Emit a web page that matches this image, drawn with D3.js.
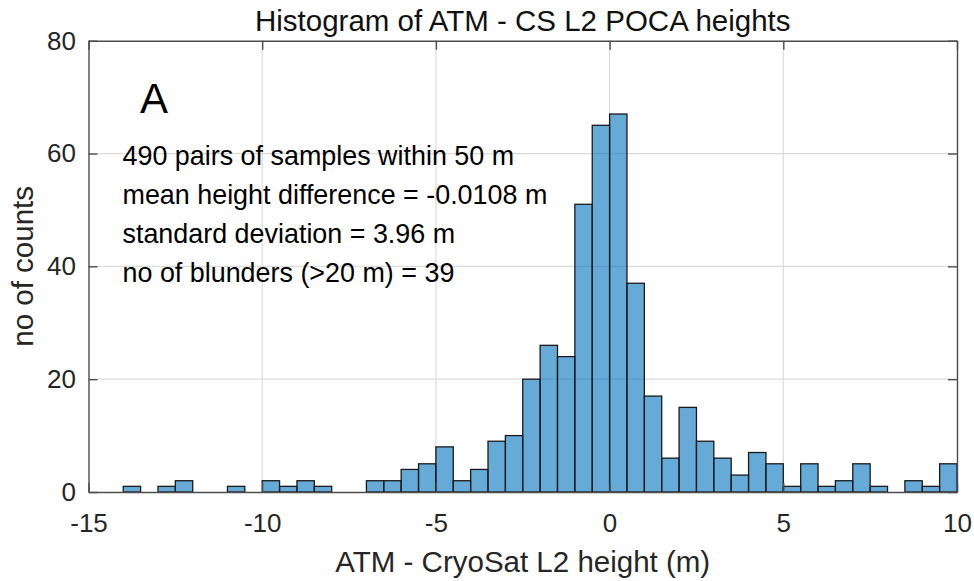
<!DOCTYPE html>
<html>
<head>
<meta charset="utf-8">
<script src="https://cdn.jsdelivr.net/npm/d3@7"></script>
<style>
  body { margin: 0; background: #fff; }
  svg { display: block; font-family: "Liberation Sans", Arial, sans-serif; }
</style>
</head>
<body>
<svg id="chart"></svg>
<script>
// bin left edges (bin width 0.5 m) and counts
var binLeft = [-15, -14.5, -14, -13.5, -13, -12.5, -12, -11.5, -11, -10.5,
               -10, -9.5, -9, -8.5, -8, -7.5, -7, -6.5, -6, -5.5,
               -5, -4.5, -4, -3.5, -3, -2.5, -2, -1.5, -1, -0.5,
               0, 0.5, 1, 1.5, 2, 2.5, 3, 3.5, 4, 4.5,
               5, 5.5, 6, 6.5, 7, 7.5, 8, 8.5, 9, 9.5];
var binWidth = 0.5;
var counts = [0, 0, 1, 0, 1, 2, 0, 0, 1, 0,
              2, 1, 2, 1, 0, 0, 2, 2, 4, 5,
              8, 2, 4, 9, 10, 20, 26, 24, 51, 65,
              67, 37, 17, 6, 15, 9, 6, 3, 7, 5,
              1, 5, 1, 2, 5, 1, 0, 2, 1, 5];

var xTicks = [-15, -10, -5, 0, 5, 10];
var yTicks = [0, 20, 40, 60, 80];

var titleText = "Histogram of ATM - CS L2 POCA heights";
var xLabel = "ATM - CryoSat L2 height (m)";
var yLabel = "no of counts";
var panelLetter = "A";
var statLines = [
  "490 pairs of samples within 50 m",
  "mean height difference = -0.0108 m",
  "standard deviation = 3.96 m",
  "no of blunders (>20 m) = 39"
];

// set the dimensions and margins of the graph
var W = 974, H = 581;
var margin = {top: 40.7, right: 17, bottom: 89, left: 88.5},
    width = W - margin.left - margin.right,
    height = H - margin.top - margin.bottom;

var svg = d3.select("#chart")
    .attr("width", W)
    .attr("height", H);

var g = svg.append("g")
    .attr("transform", "translate(" + margin.left + "," + margin.top + ")");

// set the ranges
var x = d3.scaleLinear().domain([-15, 10]).range([0, width]);
var y = d3.scaleLinear().domain([0, 80]).range([height, 0]);

// plain hyphen minus, like the original figure
var fmt = function(d) { return String(d); };

// grid lines
g.append("g").selectAll("line.vg")
  .data(xTicks.slice(1, -1))
  .enter().append("line")
  .attr("x1", function(d) { return x(d); })
  .attr("x2", function(d) { return x(d); })
  .attr("y1", 0).attr("y2", height)
  .attr("stroke", "#dcdcdc").attr("stroke-width", 1.2);

g.append("g").selectAll("line.hg")
  .data(yTicks.slice(1, -1))
  .enter().append("line")
  .attr("x1", 0).attr("x2", width)
  .attr("y1", function(d) { return y(d); })
  .attr("y2", function(d) { return y(d); })
  .attr("stroke", "#dcdcdc").attr("stroke-width", 1.2);

// bars
g.append("g").selectAll("rect")
  .data(counts)
  .enter().append("rect")
  .attr("x", function(d, i) { return x(binLeft[i]); })
  .attr("width", function(d, i) { return x(binLeft[i] + binWidth) - x(binLeft[i]); })
  .attr("y", function(d) { return y(d); })
  .attr("height", function(d) { return y(0) - y(d); })
  .attr("fill", "#0072bd")
  .attr("fill-opacity", 0.6)
  .attr("stroke", "#1a1a1a")
  .attr("stroke-width", 1.3);

// axes
var axisColor = "#4d4d4d";
var fontTick = 26;

var xAxis = g.append("g")
  .attr("transform", "translate(0," + height + ")")
  .call(d3.axisBottom(x).tickValues(xTicks).tickFormat(fmt).tickSizeInner(-9).tickSizeOuter(0).tickPadding(21.5));
var xTop = g.append("g")
  .call(d3.axisTop(x).tickValues(xTicks).tickSizeInner(-9).tickSizeOuter(0).tickFormat(""));
var yAxis = g.append("g")
  .call(d3.axisLeft(y).tickValues(yTicks).tickFormat(fmt).tickSizeInner(-9).tickSizeOuter(0).tickPadding(12.5));
var yRight = g.append("g")
  .attr("transform", "translate(" + width + ",0)")
  .call(d3.axisRight(y).tickValues(yTicks).tickSizeInner(-9).tickSizeOuter(0).tickFormat(""));

[xAxis, xTop, yAxis, yRight].forEach(function(a) {
  a.select(".domain").attr("stroke", axisColor).attr("stroke-width", 1.4);
  a.selectAll(".tick line").attr("stroke", axisColor).attr("stroke-width", 1.4);
  a.selectAll(".tick text")
    .attr("fill", "#262626")
    .style("font-size", fontTick + "px")
    .style("font-family", "Liberation Sans, Arial, sans-serif");
});

// title and labels
svg.append("text")
  .attr("x", margin.left + width / 2)
  .attr("y", 31)
  .attr("text-anchor", "middle")
  .style("font-size", "29.5px")
  .attr("fill", "#111")
  .text(titleText);

svg.append("text")
  .attr("x", margin.left + width / 2)
  .attr("y", 572)
  .attr("text-anchor", "middle")
  .style("font-size", "29.5px")
  .attr("fill", "#262626")
  .text(xLabel);

svg.append("text")
  .attr("transform", "translate(33," + (margin.top + height / 2) + ") rotate(-90)")
  .attr("text-anchor", "middle")
  .style("font-size", "29.5px")
  .attr("fill", "#262626")
  .text(yLabel);

// panel letter and statistics
svg.append("text")
  .attr("x", 140)
  .attr("y", 113)
  .style("font-size", "42px")
  .attr("fill", "#000")
  .text(panelLetter);

svg.append("g").selectAll("text")
  .data(statLines)
  .enter().append("text")
  .attr("x", 122.5)
  .attr("y", function(d, i) { return 165 + i * 38.9; })
  .style("font-size", "26.9px")
  .attr("fill", "#000")
  .text(function(d) { return d; });
</script>
</body>
</html>
